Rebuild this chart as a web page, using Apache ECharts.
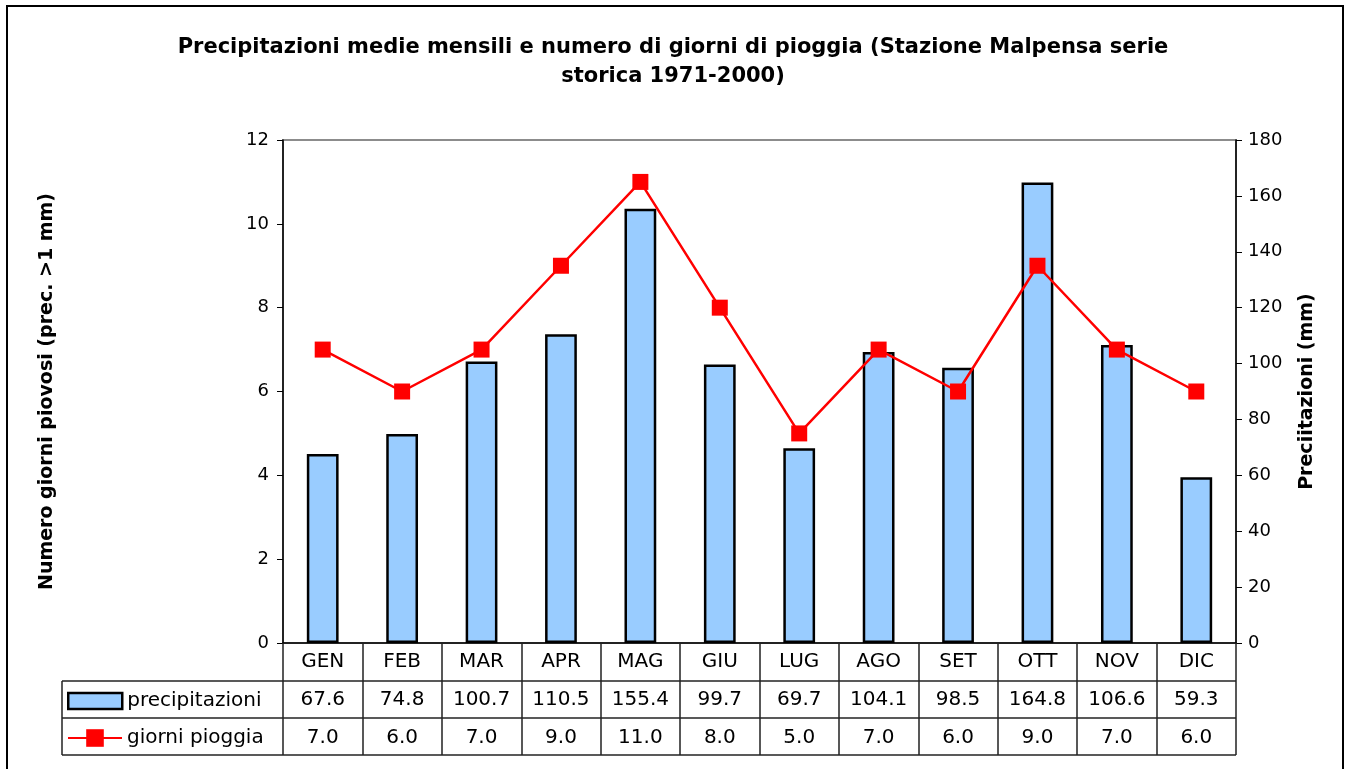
<!DOCTYPE html>
<html>
<head>
<meta charset="utf-8">
<title>Precipitazioni Malpensa</title>
<script src="https://cdn.jsdelivr.net/npm/echarts@6/dist/echarts.min.js"></script>
<style>
  html, body { margin: 0; padding: 0; background: #fff; }
  #chart { width: 1346px; height: 769px; }
</style>
</head>
<body>
<div id="chart"></div>
<script>
// dati (Stazione Malpensa 1971-2000)
const mesi = ['GEN', 'FEB', 'MAR', 'APR', 'MAG', 'GIU', 'LUG', 'AGO', 'SET', 'OTT', 'NOV', 'DIC'];
const precipitazioni = [67.6, 74.8, 100.7, 110.5, 155.4, 99.7, 69.7, 104.1, 98.5, 164.8, 106.6, 59.3];
const giorniPioggia = [7, 6, 7, 9, 11, 8, 5, 7, 6, 9, 7, 6];

const FONT = 'DejaVu Sans';
// posizione area grafico (px)
const GL = 283, GR = 1236, GT = 140, GB = 643;
const ROW1 = 681, ROW2 = 718, ROW3 = 755, TAB_LEFT = 62;

let chart = echarts.init(document.getElementById('chart'));

chart.setOption({
  animation: false,
  textStyle: { fontFamily: FONT },
  title: {
    text: 'Precipitazioni medie mensili e numero di giorni di pioggia (Stazione Malpensa serie\nstorica 1971-2000)',
    left: 'center',
    top: 28,
    textStyle: { fontFamily: FONT, fontSize: 21, fontWeight: 'bold', color: '#000', lineHeight: 29 }
  },
  grid: {
    left: GL, right: 1346 - GR, top: GT, bottom: 769 - GB,
    show: true, borderColor: '#8c8c8c', borderWidth: 2, backgroundColor: '#fff'
  },
  legend: [
    {
      data: ['precipitazioni'],
      left: 67, top: 691, padding: 0,
      itemWidth: 54, itemHeight: 16,
      icon: 'rect',
      itemStyle: { borderColor: '#000', borderWidth: 2.5 },
      textStyle: { fontFamily: FONT, fontSize: 20, color: '#000', lineHeight: 20 }
    },
    {
      data: ['giorni pioggia'],
      left: 67, top: 727, padding: 0,
      itemWidth: 54, itemHeight: 22,
      textStyle: { fontFamily: FONT, fontSize: 20, color: '#000', lineHeight: 22 }
    }
  ],
  xAxis: {
    type: 'category',
    data: mesi,
    boundaryGap: true,
    axisLine: { lineStyle: { color: '#000', width: 1.5 } },
    axisTick: { show: true, interval: 0, length: ROW3 - GB, lineStyle: { color: '#222', width: 1.5 } },
    axisLabel: {
      interval: 0,
      margin: 0,
      formatter: function (v, i) {
        return '{v|' + v + '}\n{v|' + precipitazioni[i].toFixed(1) + '}\n{v|' + giorniPioggia[i].toFixed(1) + '}';
      },
      rich: {
        v: { fontFamily: FONT, fontSize: 20, color: '#000', lineHeight: 38, align: 'center' }
      }
    }
  },
  yAxis: [
    {
      type: 'value',
      min: 0, max: 12, interval: 2,
      position: 'left',
      name: 'Numero giorni piovosi (prec. >1 mm)',
      nameLocation: 'middle',
      nameGap: 226,
      nameTextStyle: { fontFamily: FONT, fontSize: 19, fontWeight: 'bold', color: '#000' },
      axisLine: { show: true, lineStyle: { color: '#000', width: 1.5 } },
      axisTick: { show: true, length: 6, lineStyle: { color: '#000' } },
      axisLabel: { fontSize: 18, color: '#000', margin: 14 },
      splitLine: { show: false }
    },
    {
      type: 'value',
      min: 0, max: 180, interval: 20,
      position: 'right',
      name: 'Preciitazioni (mm)',
      nameLocation: 'middle',
      nameGap: 62,
      nameTextStyle: { fontFamily: FONT, fontSize: 19, fontWeight: 'bold', color: '#000' },
      axisLine: { show: true, lineStyle: { color: '#000', width: 1.5 } },
      axisTick: { show: true, length: 6, lineStyle: { color: '#000' } },
      axisLabel: { fontSize: 18, color: '#000', margin: 12 },
      splitLine: { show: false }
    }
  ],
  series: [
    {
      name: 'precipitazioni',
      type: 'bar',
      yAxisIndex: 1,
      data: precipitazioni,
      barWidth: '40%',
      itemStyle: { color: '#99CCFF', borderColor: '#000', borderWidth: 2.5 }
    },
    {
      name: 'giorni pioggia',
      type: 'line',
      yAxisIndex: 0,
      data: giorniPioggia,
      symbol: 'rect',
      symbolSize: 16,
      itemStyle: { color: '#FF0000' },
      lineStyle: { color: '#FF0000', width: 2.5 },
      z: 5
    }
  ],
  graphic: [
    // bordo esterno
    { type: 'rect', shape: { x: 7, y: 6, width: 1336, height: 775 }, style: { fill: null, stroke: '#000', lineWidth: 2 }, silent: true },
    // righe della tabella dati
    { type: 'line', shape: { x1: TAB_LEFT, y1: ROW1, x2: GR, y2: ROW1 }, style: { stroke: '#222', lineWidth: 1.5 } },
    { type: 'line', shape: { x1: TAB_LEFT, y1: ROW2, x2: GR, y2: ROW2 }, style: { stroke: '#222', lineWidth: 1.5 } },
    { type: 'line', shape: { x1: TAB_LEFT, y1: ROW3, x2: GR, y2: ROW3 }, style: { stroke: '#222', lineWidth: 1.5 } },
    { type: 'line', shape: { x1: TAB_LEFT, y1: ROW1, x2: TAB_LEFT, y2: ROW3 }, style: { stroke: '#222', lineWidth: 1.5 } }
  ]
});
</script>
</body>
</html>
